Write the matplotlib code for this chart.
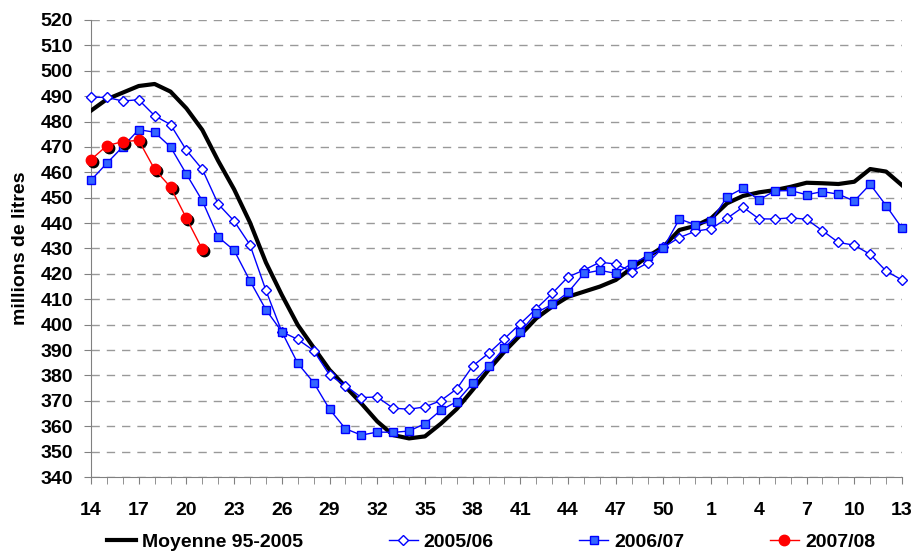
import matplotlib
matplotlib.use("Agg")
import matplotlib.pyplot as plt
import matplotlib.transforms as mtransforms

plt.rcParams['font.family'] = ['Liberation Sans', 'DejaVu Sans']
plt.rcParams['font.weight'] = 'bold'

# semaines : 14..52 puis 1..13
semaines = list(range(14, 53)) + list(range(1, 14))

moyenne = [484.3, 488.8, 491.4, 494.0, 494.8, 491.8, 485.2, 476.7, 464.5, 453.3,
           440.2, 424.5, 411.7, 399.9, 391.0, 382.2, 375.6, 369.0, 361.9, 356.5,
           355.2, 356.0, 361.0, 366.8, 374.3, 382.2, 389.4, 395.9, 402.5, 407.1,
           411.0, 413.0, 415.0, 417.6, 422.3, 426.8, 430.7, 437.3, 438.9, 441.9,
           447.8, 450.7, 452.1, 453.0, 454.3, 455.9, 455.7, 455.4, 456.3, 461.3,
           460.3, 454.9]

s0506 = [489.6, 489.5, 488.1, 488.6, 482.3, 478.8, 468.7, 461.2, 447.5, 440.8,
         431.4, 413.5, 397.2, 394.2, 389.8, 380.2, 376.0, 371.3, 371.5, 367.1,
         366.7, 367.6, 370.1, 374.7, 383.7, 388.7, 394.5, 400.4, 406.3, 412.3,
         418.8, 421.5, 424.6, 423.9, 420.9, 424.3, 430.5, 434.3, 436.8, 437.8,
         441.9, 446.3, 441.7, 441.6, 442.1, 441.5, 437.0, 432.4, 431.3, 427.7,
         421.1, 417.6]

s0607 = [456.9, 463.6, 470.1, 476.8, 475.8, 470.0, 459.3, 448.8, 434.5, 429.3,
         417.2, 405.9, 397.2, 384.8, 377.2, 366.7, 359.0, 356.5, 357.7, 357.6,
         358.1, 361.0, 366.3, 369.7, 376.9, 383.7, 390.9, 397.1, 404.7, 408.0,
         412.7, 420.2, 421.4, 420.2, 424.0, 426.9, 430.3, 441.6, 439.4, 440.8,
         450.4, 453.7, 449.1, 452.7, 452.8, 451.2, 452.4, 451.4, 448.7, 455.3,
         446.9, 438.0]

s0708 = [465.0, 470.5, 472.1, 472.6, 461.2, 454.2, 441.9, 429.7]

x = list(range(len(semaines)))

fig = plt.figure(figsize=(9.16, 5.52), dpi=100)
ax = fig.add_axes([91/916, 1-477/552, (902-91)/916, (477-20)/552])

ax.plot(x, moyenne, color='black', lw=3, label='Moyenne 95-2005', zorder=3)
ax.plot(x, s0506, color='#0000FF', lw=1, marker='D', ms=5, mfc='white',
        mec='#0000FF', mew=1, label='2005/06', zorder=4, clip_on=False)
ax.plot(x, s0607, color='#0000FF', lw=1, marker='s', ms=6, mfc='#3366FF',
        mec='#0000FF', mew=1, label='2006/07', zorder=5, clip_on=False)

# ombre des points rouges
ombre = mtransforms.offset_copy(ax.transData, fig=fig, x=1.5, y=-1.5, units='points')
ax.plot(x[:len(s0708)], s0708, ls='none', marker='o', ms=7.5, mfc='black', mec='black',
        transform=ombre, zorder=6, clip_on=False)
ax.plot(x[:len(s0708)], s0708, color='#FF0000', lw=1, marker='o', ms=7.5, mfc='#FF0000',
        mec='#FF0000', label='2007/08', zorder=7, clip_on=False)

ax.set_xlim(0, 51)
ax.set_ylim(340, 520)
ax.set_yticks(range(340, 521, 10))
ax.set_xticks(x, minor=True)
ax.set_xticks(x[::3])
ax.set_xticklabels([str(s) for s in semaines[::3]])
ax.tick_params(axis='both', which='both', direction='out', length=5, color='#808080', labelsize=14)
ax.tick_params(axis='x', which='major', pad=13)
ax.tick_params(axis='y', pad=8)

ax.grid(axis='y', color='#999999', ls=(0, (6, 5)), lw=1)
ax.set_axisbelow(True)
for s in ['top', 'right']:
    ax.spines[s].set_visible(False)
for s in ['left', 'bottom']:
    ax.spines[s].set_color('#808080')

ax.set_ylabel('millions de litres', fontsize=14, fontweight='bold', labelpad=8)

fig.legend(loc='center', bbox_to_anchor=(491/916, 1-542/552), ncol=4, frameon=False,
           fontsize=14, handlelength=1.5, handletextpad=0.3, columnspacing=4.4)

fig.savefig('out.png', dpi=100)
